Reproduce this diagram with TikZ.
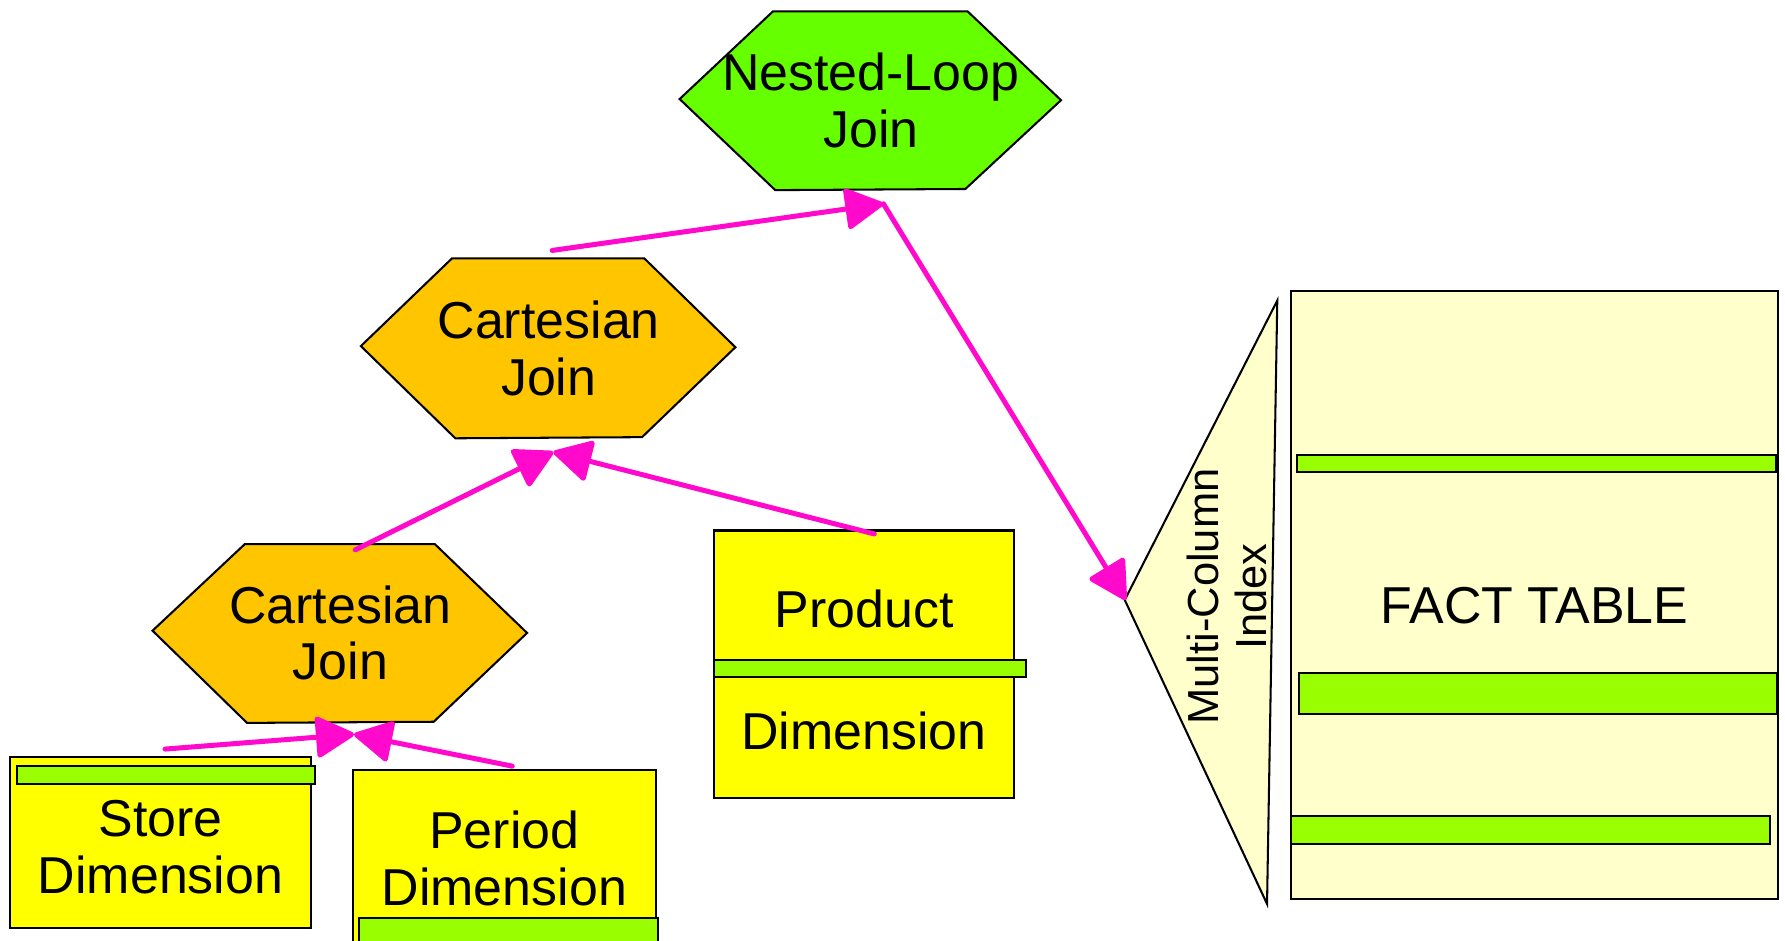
\documentclass[tikz,border=0pt]{standalone}
\usepackage{fontspec}
\setmainfont{Liberation Sans}
\usetikzlibrary{arrows.meta}

\definecolor{nlgreen}{HTML}{66FF00}
\definecolor{cjorange}{HTML}{FFC600}
\definecolor{dimyellow}{HTML}{FFFF00}
\definecolor{keygreen}{HTML}{99FF00}
\definecolor{paleyellow}{HTML}{FFFFCC}
\definecolor{linkmag}{HTML}{FF0ACC}

\tikzset{
  outline/.style={draw=black, line width=0.9pt},
  joinshape/.style={outline, fill=#1},
  dimbox/.style={outline, fill=dimyellow},
  keystrip/.style={outline, fill=keygreen},
  factbox/.style={outline, fill=paleyellow},
  label/.style={inner sep=0pt, align=center, font=\fontsize{22.8pt}{25pt}\selectfont},
  smalllabel/.style={inner sep=0pt, align=center, font=\fontsize{19.1pt}{21pt}\selectfont},
  link/.style={draw=linkmag, line width=2.2pt, line cap=round,
               -{Triangle[length=18pt,width=19pt,round]}},
}

\begin{document}
\begin{tikzpicture}[x=0.5pt,y=-0.5pt]
\useasboundingbox (0,0) rectangle (1568,826);
\clip (0,0) rectangle (1568,826);

% --- join operators (hexagons) ---
\path[joinshape=nlgreen]  (679,10) -- (850,10) -- (932,88) -- (848,166) -- (681,167) -- (597,87) -- cycle;
\path[joinshape=cjorange] (397,227) -- (566,227) -- (646,305) -- (564,384) -- (400,385) -- (317,304) -- cycle;
\path[joinshape=cjorange] (215,478) -- (382,478) -- (463,556) -- (381,634) -- (217,635) -- (134,554) -- cycle;

\node[label] (nlj) at (765,88)  {Nested-Loop\\Join};
\node[label] (cjup) at (482,306) {Cartesian\\Join};
\node[label] (cjlow) at (299,556) {Cartesian\\Join};

% --- dimension tables ---
\path[dimbox]   (9,665) rectangle (273,815);
\path[keystrip] (15,673) rectangle (277,689);
\node[label] (store) at (141,744) {Store\\Dimension};

\path[dimbox]   (310,676) rectangle (576,840);
\path[keystrip] (315,806) rectangle (578,840);
\node[label] (period) at (443,754) {Period\\Dimension};

\path[dimbox]   (627,466) rectangle (891,701);
\path[keystrip] (627,580) rectangle (901,595);
\node[label] (prodtop) at (759,535) {Product};
\node[label] (prodbot) at (759,642) {Dimension};

% --- fact table and its index ---
\path[factbox] (1134,256) rectangle (1562,790);
\path[keystrip] (1139,400) rectangle (1560,415);
\path[keystrip] (1141,591) rectangle (1561,627);
\path[keystrip] (1134,717) rectangle (1555,741);
\node[label] (fact) at (1348,532) {FACT TABLE};

\path[factbox] (1122,264) -- (988,527) -- (1113,794) -- cycle;
\node[smalllabel, rotate=90] (index) at (1078,524) {Multi-Column\\Index};

% --- connector end points ---
\coordinate (nlj-in)    at (776,179);
\coordinate (idx-tip)   at (989,527);
\coordinate (cjup-out)  at (485,220);
\coordinate (cjup-in)   at (486,397);
\coordinate (cjlow-out) at (312,483);
\coordinate (prod-out)  at (768,469);
\coordinate (cjlow-in)  at (311,645);
\coordinate (store-out) at (145,658);
\coordinate (period-out) at (450,673);

% --- data flow ---
\draw[link] (cjup-out) -- (nlj-in);
\draw[link] (nlj-in) -- (idx-tip);
\draw[link] (cjlow-out) -- (cjup-in);
\draw[link] (prod-out) -- (cjup-in);
\draw[link] (store-out) -- (cjlow-in);
\draw[link] (period-out) -- (cjlow-in);
\end{tikzpicture}
\end{document}
